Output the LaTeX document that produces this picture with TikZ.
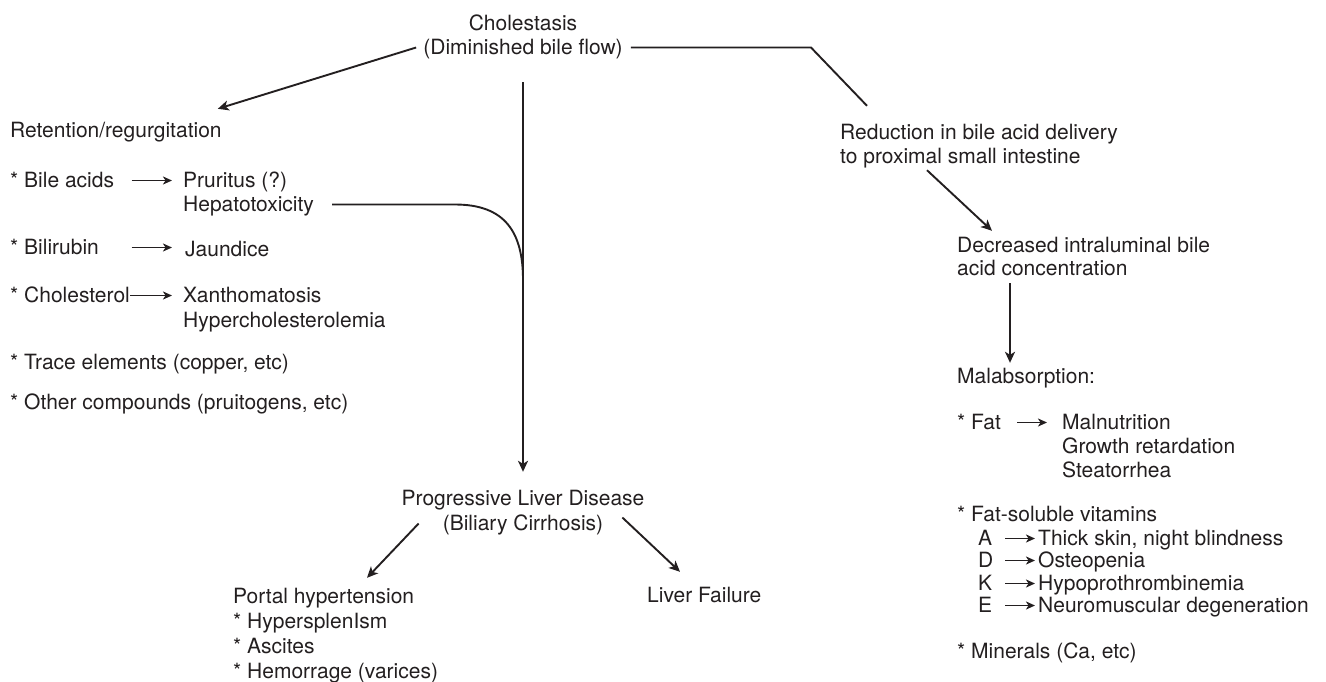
\documentclass[tikz,border=0pt]{standalone}
\usepackage{fontspec}
\setmainfont{TeX Gyre Heros}
\usetikzlibrary{arrows.meta}
\definecolor{ink}{HTML}{231F20}
\begin{document}
\begin{tikzpicture}[x=1pt,y=-1pt,
  txt/.style={inner sep=0pt, text height=16pt, text depth=3pt, anchor=base west,
              font=\fontsize{21}{24}\selectfont, text=ink},
  ctxt/.style={txt, anchor=base},
  ln/.style={draw=ink, line width=1.9pt},
  arr/.style={ln, -{Stealth[length=11pt,width=10pt,inset=3pt]}},
  sarr/.style={ln, -{Stealth[length=9pt,width=8pt,inset=2.5pt]}}]
\useasboundingbox (0,0) rectangle (1326,681);

% top
\node[ctxt] (chol)  at (523,30) {Cholestasis};
\node[ctxt] (dimin) at (523,54) {(Diminished bile flow)};

% left column
\node[txt] (ret)   at (10,137) {Retention/regurgitation};
\node[txt] (bile)  at (10,187) {* Bile acids};
\node[txt] (prur)  at (183,187) {Pruritus (?)};
\node[txt] (hepa)  at (183,211) {Hepatotoxicity};
\node[txt] (bili)  at (10,254) {* Bilirubin};
\node[txt] (jaun)  at (185,256) {Jaundice};
\node[txt] (chst)  at (10,302) {* Cholesterol};
\node[txt] (xan)   at (183,302) {Xanthomatosis};
\node[txt] (hyp)   at (183,327) {Hypercholesterolemia};
\node[txt] (trace) at (10,369) {* Trace elements (copper, etc)};
\node[txt] (other) at (10,409) {* Other compounds (pruitogens, etc)};

% centre
\node[ctxt] (prog) at (523,505) {Progressive Liver Disease};
\node[ctxt] (bil)  at (523,530) {(Biliary Cirrhosis)};
\node[txt] (portal) at (233,603) {Portal hypertension};
\node[txt] (hsp)    at (233,628) {* HypersplenIsm};
\node[txt] (asc)    at (233,653) {* Ascites};
\node[txt] (hem)    at (233,678) {* Hemorrage (varices)};
\node[txt] (lf)     at (647,602) {Liver Failure};

% right column
\node[txt] (red)  at (840,139) {Reduction in bile acid delivery};
\node[txt] (prox) at (840,163) {to proximal small intestine};
\node[txt] (dec)  at (957,252) {Decreased intraluminal bile};
\node[txt] (acid) at (957,275) {acid concentration};
\node[txt] (mal)  at (957,383) {Malabsorption:};
\node[txt] (fat)  at (957,429) {* Fat};
\node[txt] (maln) at (1062,429) {Malnutrition};
\node[txt] (grow) at (1062,453) {Growth retardation};
\node[txt] (stea) at (1062,477) {Steatorrhea};
\node[txt] (fsv)  at (957,521) {* Fat-soluble vitamins};
\node[txt] (va) at (978,545) {A};
\node[txt] (vd) at (978,567) {D};
\node[txt] (vk) at (978,590) {K};
\node[txt] (ve) at (978,612) {E};
\node[txt] (ta) at (1038,545) {Thick skin, night blindness};
\node[txt] (td) at (1038,567) {Osteopenia};
\node[txt] (tk) at (1038,590) {Hypoprothrombinemia};
\node[txt] (te) at (1038,612) {Neuromuscular degeneration};
\node[txt] (min) at (957,658) {* Minerals (Ca, etc)};

% helper coordinates
\coordinate (rettip) at ([shift={(-4,-12)}]ret.north east);
\coordinate (rbend)  at (803,0);
\coordinate (redtip) at ([shift={(27,-17)}]red.north west);
\coordinate (hk1) at (455,204.5);
\coordinate (hk2) at (523,280);
\coordinate (ax1) at (131.5,0);
\coordinate (ax2) at (172,0);
\coordinate (fx1) at (1017,0);
\coordinate (fx2) at (1047,0);
\coordinate (vx1) at (1005,0);
\coordinate (vx2) at (1035,0);

% connectors
\draw[arr] ([xshift=-7pt]dimin.west) -- (rettip);
\draw[arr, shorten <=25pt, shorten >=17pt] (dimin.south) -- (prog.north);
\draw[ln] ([xshift=18pt]hepa.east) -- (hk1) .. controls (505,204.5) and (523,232) .. (hk2);
\draw[ln] ([xshift=8pt]dimin.east) -- ([xshift=8pt]dimin.east -| rbend) -- (redtip);
\draw[arr] ([shift={(87,4)}]prox.south west) -- ([shift={(35,-5)}]dec.north west);
\draw[arr] ([shift={(53,5)}]acid.south west) -- ([shift={(53,-4)}]mal.north west);
\draw[arr] ([xshift=-24pt]bil.west) -- ([shift={(134,-9)}]portal.north west);
\draw[arr] ([shift={(19,-6)}]bil.east) -- ([shift={(33,-14)}]lf.north west);

% inline arrows (horizontal)
\draw[sarr] (bile.east -| ax1) -- (bile.east -| ax2);
\draw[sarr] (bili.east -| ax1) -- (bili.east -| ax2);
\draw[sarr] (chst.east) -- (chst.east -| ax2);
\draw[sarr] (fat.east -| fx1) -- (fat.east -| fx2);
\draw[sarr] (va.east -| vx1) -- (va.east -| vx2);
\draw[sarr] (vd.east -| vx1) -- (vd.east -| vx2);
\draw[sarr] (vk.east -| vx1) -- (vk.east -| vx2);
\draw[sarr] (ve.east -| vx1) -- (ve.east -| vx2);
\end{tikzpicture}
\end{document}
